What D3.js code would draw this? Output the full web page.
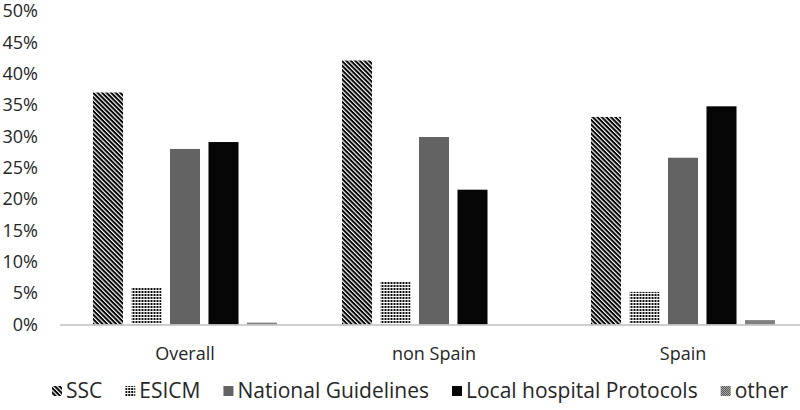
<!DOCTYPE html>
<html>
<head>
<meta charset="utf-8">
<script src="https://cdn.jsdelivr.net/npm/d3@7"></script>
<style>
  html, body { margin: 0; padding: 0; background: #fff; }
  svg { display: block; font-family: "Open Sans", sans-serif; }
</style>
</head>
<body>
<svg id="chart" width="800" height="410"></svg>
<script>
const categories = ["Overall", "non Spain", "Spain"];
const seriesNames = ["SSC", "ESICM", "National Guidelines", "Local hospital Protocols", "other"];
const SSC = [37.0, 42.1, 33.1];
const ESICM = [5.9, 6.9, 5.2];
const National = [28.0, 29.9, 26.6];
const Local = [29.1, 21.5, 34.8];
const Other = [0.3, 0.0, 0.7];
const yTicks = [0, 5, 10, 15, 20, 25, 30, 35, 40, 45, 50];

const seriesValues = [SSC, ESICM, National, Local, Other];
const svg = d3.select("#chart");

// defs: patterns
const defs = svg.append("defs");
const pSSC = defs.append("pattern").attr("id", "p-ssc").attr("patternUnits", "userSpaceOnUse")
  .attr("width", 3.2).attr("height", 3.2).attr("patternTransform", "rotate(-45)");
pSSC.append("rect").attr("width", 3.2).attr("height", 3.2).attr("fill", "#000");
pSSC.append("rect").attr("width", 1.2).attr("height", 3.2).attr("fill", "#fff");

const pES = defs.append("pattern").attr("id", "p-esicm").attr("patternUnits", "userSpaceOnUse")
  .attr("width", 3).attr("height", 3);
pES.append("rect").attr("width", 3).attr("height", 3).attr("fill", "#fff");
pES.append("rect").attr("width", 2).attr("height", 2).attr("fill", "#111");

const pOt = defs.append("pattern").attr("id", "p-other").attr("patternUnits", "userSpaceOnUse")
  .attr("width", 2).attr("height", 2);
pOt.append("rect").attr("width", 2).attr("height", 2).attr("fill", "#fff");
pOt.append("rect").attr("width", 1).attr("height", 1).attr("fill", "#000");
pOt.append("rect").attr("x", 1).attr("y", 1).attr("width", 1).attr("height", 1).attr("fill", "#000");

const fills = ["url(#p-ssc)", "url(#p-esicm)", "#636363", "#050505", "url(#p-other)"];

const x0 = d3.scaleBand().domain(categories).range([60.5, 807.5]).padding(0);
const x1 = d3.scaleBand().domain(seriesNames).range([32.5, 216.5]).paddingInner(0.22);
const y = d3.scaleLinear().domain([0, 50]).range([324.5, 11]);

// y tick labels
svg.append("g").selectAll("text").data(yTicks).join("text")
  .attr("x", 38).attr("y", d => y(d)).attr("dy", "0.35em")
  .attr("text-anchor", "end").attr("font-size", 18).attr("fill", "#262626")
  .text(d => d + "%");

// bars
const groups = svg.append("g").selectAll("g").data(categories).join("g")
  .attr("transform", c => `translate(${x0(c)},0)`);
groups.selectAll("rect")
  .data((c, ci) => seriesNames.map((s, si) => ({ s, si, v: seriesValues[si][ci] })))
  .join("rect")
  .attr("x", d => x1(d.s))
  .attr("width", x1.bandwidth())
  .attr("y", d => y(d.v))
  .attr("height", d => y(0) - y(d.v))
  .attr("fill", d => fills[d.si]);

// axis line
svg.append("line").attr("x1", 60).attr("x2", 800).attr("y1", 325).attr("y2", 325)
  .attr("stroke", "#bfbfbf").attr("stroke-width", 1.5);

// category labels
svg.append("g").selectAll("text").data(categories).join("text")
  .attr("x", c => x0(c) + x0.bandwidth() / 2).attr("y", 354).attr("dy", "0.35em")
  .attr("text-anchor", "middle").attr("font-size", 18).attr("fill", "#262626")
  .text(c => c);

// legend
const legend = svg.append("g").attr("transform", "translate(0,391)");
let lx = 52;
seriesNames.forEach((s, i) => {
  const g = legend.append("g").attr("transform", `translate(${lx},0)`);
  g.append("rect").attr("x", 0).attr("y", -5).attr("width", 10).attr("height", 10).attr("fill", fills[i]);
  const t = g.append("text").attr("x", 14).attr("dy", "0.35em").attr("font-size", 21).attr("fill", "#262626").text(s);
  lx += 14 + t.node().getComputedTextLength() + 23;
});
</script>
</body>
</html>
